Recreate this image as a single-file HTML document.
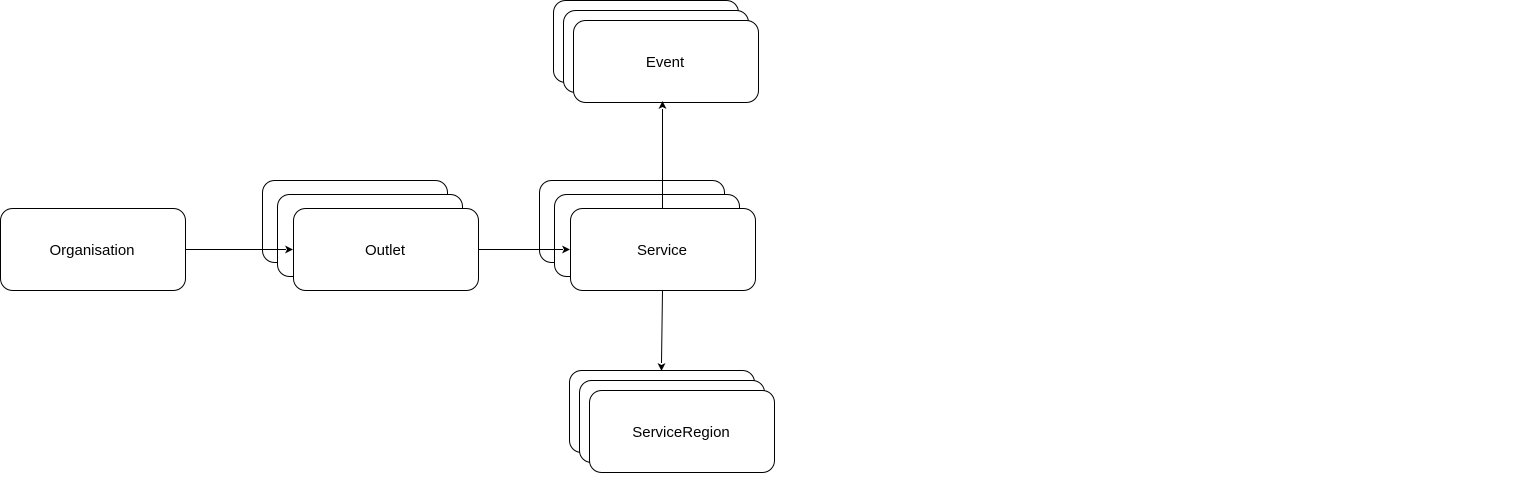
<!DOCTYPE html>
<html><head><style>body{margin:0;background:#fff}</style></head><body>
<svg width="1521" height="473" xmlns="http://www.w3.org/2000/svg" font-family="Liberation Sans, sans-serif" font-size="15">
<g fill="#fff" stroke="#000" stroke-width="1">
<rect x="0.5" y="208.5" width="185" height="82" rx="12"/>
<rect x="262.5" y="180.5" width="185" height="82" rx="12"/>
<rect x="277.5" y="194.5" width="185" height="82" rx="12"/>
<rect x="293.5" y="208.5" width="185" height="82" rx="12"/>
<rect x="539.5" y="180.5" width="185" height="82" rx="12"/>
<rect x="554.5" y="194.5" width="185" height="82" rx="12"/>
<rect x="570.5" y="208.5" width="185" height="82" rx="12"/>
<rect x="553.5" y="0.5" width="185" height="82" rx="12"/>
<rect x="563.5" y="10.5" width="185" height="82" rx="12"/>
<rect x="573.5" y="20.5" width="185" height="82" rx="12"/>
<rect x="569.5" y="370.5" width="185" height="82" rx="12"/>
<rect x="579.5" y="380.5" width="185" height="82" rx="12"/>
<rect x="589.5" y="390.5" width="185" height="82" rx="12"/>
</g>
<g stroke="#000" fill="none">
<path d="M185 249.5H286"/><path d="M478 249.5H563"/>
<path d="M662.5 208V109"/><path d="M662.5 290Q662 330 661.5 363"/>
</g>
<g fill="#000">
<path d="M293 249.5l-8 -4 2 4 -2 4z"/>
<path d="M570 249.5l-8 -4 2 4 -2 4z"/>
<path d="M662.5 101l-4 8 4 -2 4 2z"/>
<path d="M661.5 371l-4 -8 4 2 4 -2z"/>
</g>
<g text-anchor="middle" fill="#000">
<text x="92" y="255">Organisation</text>
<text x="385" y="255">Outlet</text>
<text x="662" y="255">Service</text>
<text x="665" y="67">Event</text>
<text x="681" y="437">ServiceRegion</text>
</g>
</svg>
</body></html>
